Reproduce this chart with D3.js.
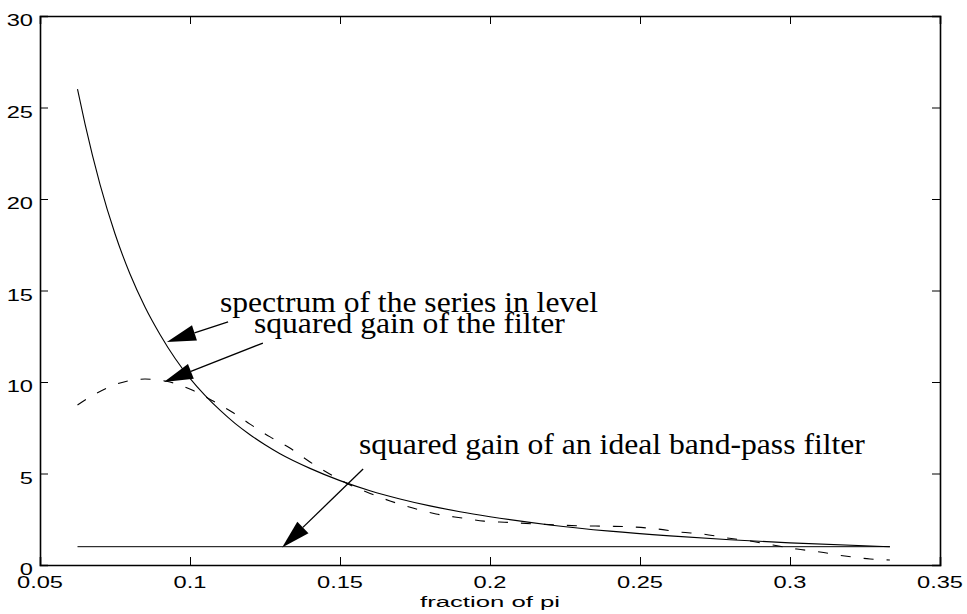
<!DOCTYPE html>
<html>
<head>
<meta charset="utf-8">
<script src="https://cdn.jsdelivr.net/npm/d3@7"></script>
<style>
  html, body { margin: 0; padding: 0; background: #fff; }
  svg { display: block; }
</style>
</head>
<body>
<svg id="chart" width="967" height="614"></svg>
<script>
// ---- data ----
const xTicks = [0.05, 0.1, 0.15, 0.2, 0.25, 0.3, 0.35];
const xTickLabels = ["0.05", "0.1", "0.15", "0.2", "0.25", "0.3", "0.35"];
const yTicks = [0, 5, 10, 15, 20, 25, 30];
const yTickLabels = ["0", "5", "10", "15", "20", "25", "30"];
const xLabel = "fraction of pi";

// spectrum of the series in level (solid)
const spectrumX = [0.0625, 0.065, 0.07, 0.075, 0.08, 0.085, 0.09, 0.095, 0.1, 0.105, 0.11, 0.115, 0.12, 0.125, 0.13, 0.14, 0.15, 0.16, 0.17, 0.18, 0.19, 0.2, 0.22, 0.24, 0.26, 0.28, 0.3, 0.3333];
const spectrumY = [26.0, 24.1, 20.8, 18.1, 15.9, 14.1, 12.6, 11.3, 10.2, 9.27, 8.46, 7.74, 7.12, 6.57, 6.08, 5.28, 4.61, 4.06, 3.61, 3.23, 2.91, 2.64, 2.19, 1.85, 1.59, 1.38, 1.21, 1.0];

// squared gain of the filter (dashed)
const gainX = [0.0625, 0.069, 0.0767, 0.085, 0.0933, 0.1007, 0.1077, 0.114, 0.12, 0.1267, 0.1333, 0.14, 0.146, 0.152, 0.161, 0.1667, 0.1743, 0.182, 0.1907, 0.198, 0.206, 0.2143, 0.2223, 0.2307, 0.239, 0.2477, 0.2557, 0.2633, 0.271, 0.279, 0.2867, 0.2943, 0.3023, 0.31, 0.3183, 0.3267, 0.3333];
const gainY = [8.74, 9.4, 9.95, 10.16, 10.0, 9.56, 8.96, 8.36, 7.7, 7.0, 6.39, 5.63, 5.03, 4.48, 3.85, 3.5, 3.11, 2.79, 2.57, 2.40, 2.33, 2.25, 2.19, 2.14, 2.12, 2.08, 1.97, 1.8, 1.69, 1.48, 1.31, 1.09, 0.87, 0.71, 0.49, 0.33, 0.27];

// squared gain of an ideal band-pass filter (solid flat)
const idealX = [0.0625, 0.3333];
const idealY = [1, 1];

// annotations (data coordinates)
const annoTexts = ["spectrum of the series in level", "squared gain of the filter", "squared gain of an ideal band-pass filter"];
const annoTextX = [0.11, 0.1213, 0.1563];
const annoTextY = [13.83, 12.68, 6.06];
const annoTextW = [378, 311, 506];
const arrowTail = [[0.1127, 13.28], [0.1243, 12.13], [0.1577, 5.25]];
const arrowTip = [[0.0923, 12.19], [0.0913, 10.0], [0.1307, 0.95]];

// ---- drawing ----
const svg = d3.select("#chart");
const mLeft = 40, mRight = 940, mTop = 16, mBottom = 565;
const x = d3.scaleLinear().domain([0.05, 0.35]).range([mLeft, mRight]);
const y = d3.scaleLinear().domain([0, 30]).range([mBottom, mTop]);

const sansFont = "'Liberation Sans', Arial, Helvetica, sans-serif";
const serifFont = "'Liberation Serif', 'Times New Roman', Times, serif";
const tickLen = 8;

// axes box with inward ticks
const gAxes = svg.append("g");
const axB = d3.axisBottom(x).tickValues(xTicks).tickSize(-tickLen).tickFormat("");
const axT = d3.axisTop(x).tickValues(xTicks).tickSize(-tickLen).tickFormat("");
const axL = d3.axisLeft(y).tickValues(yTicks).tickSize(-tickLen).tickFormat("");
const axR = d3.axisRight(y).tickValues(yTicks).tickSize(-tickLen).tickFormat("");
gAxes.append("g").attr("transform", `translate(0,${mBottom})`).call(axB);
gAxes.append("g").attr("transform", `translate(0,${mTop})`).call(axT);
gAxes.append("g").attr("transform", `translate(${mLeft},0)`).call(axL);
gAxes.append("g").attr("transform", `translate(${mRight},0)`).call(axR);
gAxes.selectAll(".domain").attr("stroke", "#000").attr("stroke-width", 1.6);
gAxes.selectAll(".tick line").attr("stroke", "#000").attr("stroke-width", 1);

// tick labels (stretched Helvetica-like)
const stretch = 1.39;
svg.append("g").selectAll("text").data(xTicks).join("text")
  .attr("transform", d => `translate(${x(d)},${mBottom + 23}) scale(${stretch},1)`)
  .attr("text-anchor", "middle")
  .attr("font-family", sansFont).attr("font-size", 17)
  .text((d, i) => xTickLabels[i]);
svg.append("g").selectAll("text").data(yTicks).join("text")
  .attr("transform", d => `translate(${mLeft - 7},${y(d) + 10}) scale(${stretch},1)`)
  .attr("text-anchor", "end")
  .attr("font-family", sansFont).attr("font-size", 17)
  .text((d, i) => yTickLabels[i]);

// x label
svg.append("text")
  .attr("x", x(0.2)).attr("y", 607)
  .attr("text-anchor", "middle")
  .attr("font-family", sansFont).attr("font-size", 14)
  .attr("textLength", 140).attr("lengthAdjust", "spacingAndGlyphs")
  .text(xLabel);

// lines
const line = d3.line().x(d => x(d[0])).y(d => y(d[1])).curve(d3.curveMonotoneX);
const gLines = svg.append("g").attr("fill", "none").attr("stroke", "#000");
gLines.append("path").datum(idealX.map((v, i) => [v, idealY[i]])).attr("d", line).attr("stroke-width", 1);
gLines.append("path").datum(spectrumX.map((v, i) => [v, spectrumY[i]])).attr("d", line).attr("stroke-width", 1.1);
gLines.append("path").datum(gainX.map((v, i) => [v, gainY[i]])).attr("d", line).attr("stroke-width", 1.1)
  .attr("stroke-dasharray", "10,13");

// annotation arrows
const headLen = 29, headHalf = 8;
const gArrows = svg.append("g");
arrowTail.forEach((t, i) => {
  const x0 = x(t[0]), y0 = y(t[1]);
  const x1 = x(arrowTip[i][0]), y1 = y(arrowTip[i][1]);
  const dx = x1 - x0, dy = y1 - y0, L = Math.hypot(dx, dy);
  const ux = dx / L, uy = dy / L;
  const bx = x1 - ux * headLen, by = y1 - uy * headLen;
  gArrows.append("line").attr("x1", x0).attr("y1", y0).attr("x2", bx).attr("y2", by)
    .attr("stroke", "#000").attr("stroke-width", 1.3);
  gArrows.append("polygon")
    .attr("points", [[x1, y1], [bx - uy * headHalf, by + ux * headHalf], [bx + uy * headHalf, by - ux * headHalf]].map(p => p.join(",")).join(" "))
    .attr("fill", "#000");
});

// annotation texts
svg.append("g").selectAll("text").data(annoTexts).join("text")
  .attr("x", (d, i) => x(annoTextX[i]))
  .attr("y", (d, i) => y(annoTextY[i]))
  .attr("font-family", serifFont).attr("font-size", 29)
  .attr("textLength", (d, i) => annoTextW[i]).attr("lengthAdjust", "spacingAndGlyphs")
  .text(d => d);
</script>
</body>
</html>
